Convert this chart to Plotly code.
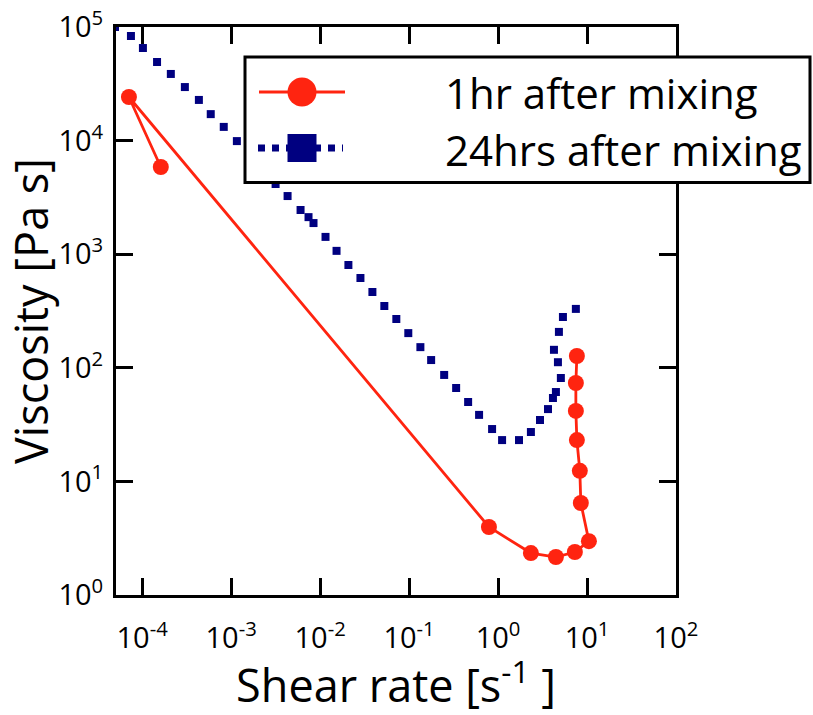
import plotly.graph_objects as go

# Viscosity vs. shear rate, 1 hr after mixing
shear_1hr = [1.62e-4, 7.1e-5, 0.79, 2.34, 4.47, 7.3, 10.5, 8.52, 8.30, 7.69, 7.49, 7.49, 7.69]
visc_1hr = [5.86e3, 2.42e4, 3.97, 2.34, 2.16, 2.39, 2.98, 6.45, 12.4, 23.1, 41.7, 73.5, 127]

# Viscosity vs. shear rate, 24 hrs after mixing
shear_24hr = [4.95e-5, 7.48e-5, 1.02e-4, 1.47e-4, 2.10e-4, 3.02e-4, 4.34e-4, 5.90e-4,
              8.26e-4, 1.16e-3, 3.16e-3, 4.31e-3, 6.03e-3, 7.41e-3, 8.43e-3, 1.15e-2,
              1.53e-2, 2.08e-2, 2.84e-2, 3.87e-2, 5.27e-2, 7.19e-2, 9.80e-2, 0.134,
              0.177, 0.248, 0.338, 0.461, 0.612, 0.857, 1.11, 1.72, 2.34, 2.96, 3.64,
              4.14, 4.47, 5.08, 4.71, 4.25, 4.83, 5.36, 7.49]
visc_24hr = [1.0e5, 8.33e4, 6.53e4, 4.92e4, 3.86e4, 2.96e4, 2.28e4, 1.71e4,
             1.32e4, 9.9e3, 4.15e3, 3.25e3, 2.45e3, 2.12e3, 1.88e3, 1.42e3,
             1.07e3, 803, 617, 465, 350, 269, 202, 152,
             117, 86.5, 66.4, 50.0, 38.5, 28.9, 23.1, 23.1, 27.2, 34.7, 43.3,
             54.2, 61.2, 81.3, 112, 144, 207, 280, 330]

x_exponents = [-4, -3, -2, -1, 0, 1, 2]
y_exponents = [0, 1, 2, 3, 4, 5]

series_names = ["1hr after mixing", "24hrs after mixing"]

RED = "#ff2410"
NAVY = "#000080"
FONT = "Open Sans"

fig = go.Figure()
fig.add_trace(go.Scatter(
    x=shear_1hr, y=visc_1hr, mode="lines+markers", name=series_names[0],
    line=dict(color=RED, width=2.8),
    marker=dict(symbol="circle", size=16, color=RED),
))
fig.add_trace(go.Scatter(
    x=shear_24hr, y=visc_24hr, mode="markers", name=series_names[1],
    marker=dict(symbol="square", size=8, color=NAVY),
))

# plot-area geometry in pixels (used for the hand-drawn key box)
W, H = 813, 715
L, R, T, B = 116, 676, 27, 595


def px(xp):
    return (xp - L) / (R - L)


def py(yp):
    return (B - yp) / (B - T)


row1, row2 = 92, 148
shapes = [
    dict(type="rect", xref="paper", yref="paper", layer="above",
         x0=px(245), x1=px(810), y0=py(182.5), y1=py(57),
         fillcolor="white", line=dict(color="black", width=3)),
    dict(type="line", xref="paper", yref="paper", layer="above",
         x0=px(259), x1=px(345), y0=py(row1), y1=py(row1),
         line=dict(color=RED, width=2.8)),
    dict(type="circle", xref="paper", yref="paper", layer="above",
         xsizemode="pixel", ysizemode="pixel",
         xanchor=px(302), yanchor=py(row1), x0=-14.5, x1=14.5, y0=-14.5, y1=14.5,
         fillcolor=RED, line=dict(color=RED, width=0)),
    dict(type="line", xref="paper", yref="paper", layer="above",
         x0=px(258), x1=px(343), y0=py(row2), y1=py(row2),
         line=dict(color=NAVY, width=7, dash="dot")),
    dict(type="rect", xref="paper", yref="paper", layer="above",
         xsizemode="pixel", ysizemode="pixel",
         xanchor=px(302), yanchor=py(row2), x0=-14.5, x1=14.5, y0=-14, y1=14,
         fillcolor=NAVY, line=dict(color=NAVY, width=0)),
]

annotations = [
    dict(xref="paper", yref="paper", x=px(443), y=py(row), text=name,
         showarrow=False, xanchor="left", yanchor="middle",
         font=dict(family=FONT, size=42, color="black"))
    for name, row in zip(series_names, [row1 + 1, row2 + 1])
]

axis_common = dict(
    type="log", showgrid=False, zeroline=False,
    showline=True, linecolor="black", linewidth=3, mirror="ticks",
    ticks="inside", ticklen=17, tickwidth=3, tickcolor="black",
    tickfont=dict(family=FONT, size=29, color="black"),
    tickmode="array",
)

fig.update_layout(
    width=W, height=H,
    margin=dict(l=L, r=W - R, t=T, b=H - B, autoexpand=False),
    paper_bgcolor="white", plot_bgcolor="white",
    showlegend=False,
    font=dict(family=FONT, color="black"),
    xaxis=dict(
        axis_common,
        range=[-4.294, 2.0],
        tickvals=[10.0 ** e for e in x_exponents],
        ticktext=[f"10<sup>{e}</sup>" for e in x_exponents],
        ticklabelstandoff=15,
        title=dict(text="Shear rate [s<sup>-1</sup> ]",
                   font=dict(family=FONT, size=45, color="black"), standoff=22),
    ),
    yaxis=dict(
        axis_common,
        range=[0, 5],
        tickvals=[10.0 ** e for e in y_exponents],
        ticktext=[f"10<sup>{e}</sup>" for e in y_exponents],
        ticklabelstandoff=4,
        title=dict(text="Viscosity [Pa s]",
                   font=dict(family=FONT, size=45, color="black"), standoff=4),
    ),
    shapes=shapes,
    annotations=annotations,
)

fig.write_html("out.html")
